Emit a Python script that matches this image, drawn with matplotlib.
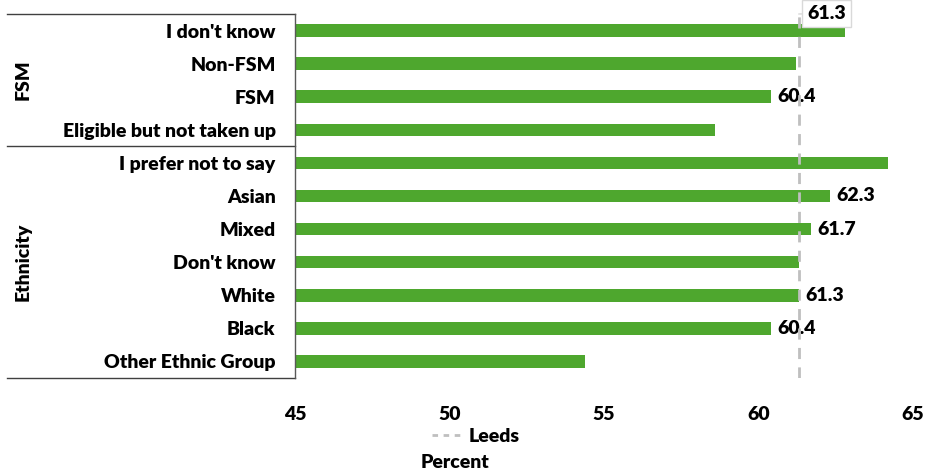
import matplotlib.pyplot as plt
from matplotlib.lines import Line2D
import numpy as np

plt.rcParams['font.family'] = ['Lato', 'DejaVu Sans']
plt.rcParams['font.weight'] = 'heavy'

# categories, top to bottom
categories = ['I don\'t know', 'Non-FSM', 'FSM', 'Eligible but not taken up',
              'I prefer not to say', 'Asian', 'Mixed', 'Don\'t know', 'White',
              'Black', 'Other Ethnic Group']
values = [62.8, 61.2, 60.4, 58.6, 64.2, 62.3, 61.7, 61.3, 61.3, 60.4, 54.4]
show_label = [False, False, True, False, False, True, True, False, True, True, False]
groups = ['FSM', 'Ethnicity']
group_sizes = [4, 7]
leeds = 61.3

bar_color = '#4EA72E'
line_color = '#BFBFBF'
fs = 14
fw = 'heavy'

fig = plt.figure(figsize=(9.28, 4.73), dpi=100)
ax = fig.add_axes([295/928, 1 - 378/473, (913 - 295)/928, (378 - 14)/473])

y = np.arange(len(categories))
bars = ax.barh(y, values, height=0.38, color=bar_color)
ax.set_ylim(len(categories) - 0.5, -0.5)
ax.set_xlim(45, 65)
ax.set_xticks([45, 50, 55, 60, 65])
ax.set_yticks(y)
ax.set_yticklabels(categories, fontsize=fs, fontweight=fw)
ax.tick_params(axis='y', length=0, pad=14)
ax.tick_params(axis='x', length=0, pad=20, labelsize=fs)
for lbl in ax.get_xticklabels():
    lbl.set_fontweight(fw)

for s in ['top', 'right', 'bottom']:
    ax.spines[s].set_visible(False)
ax.spines['left'].set_color('#595959')
ax.spines['left'].set_linewidth(1)

# value labels
for yi, v, show in zip(y, values, show_label):
    if show:
        ax.text(v + 0.22, yi, f'{v:.1f}', va='center', ha='left', fontsize=fs, fontweight=fw)

# Leeds reference line
ax.axvline(leeds, color=line_color, linestyle=(0, (4, 3)), linewidth=2, zorder=3)
ax.annotate(f'{leeds:.1f}', xy=(leeds, -0.5), xytext=(leeds + 0.9, -0.52),
            ha='center', va='center', fontsize=fs, fontweight=fw,
            bbox=dict(boxstyle='square,pad=0.25', fc='white', ec='#D9D9D9', lw=1),
            arrowprops=dict(arrowstyle='-', color='#D9D9D9', lw=1, shrinkA=0, shrinkB=0),
            annotation_clip=False, zorder=5)

# group separators and labels on the left
trans = ax.get_yaxis_transform()
x0 = (7 - 295) / (913 - 295)
bounds = np.cumsum([0] + group_sizes) - 0.5
for b in bounds:
    ax.plot([x0, 0], [b, b], transform=trans, color='#404040', lw=1, clip_on=False)
for g, lo, hi in zip(groups, bounds[:-1], bounds[1:]):
    ax.text((23 - 295) / (913 - 295), (lo + hi) / 2, g, transform=trans, rotation=90,
            ha='center', va='center', fontsize=fs, fontweight=fw)

# legend and axis title
handle = Line2D([0], [0], color=line_color, linestyle=(0, (2, 2)), lw=2)
fig.legend([handle], ['Leeds'], loc='center', bbox_to_anchor=(476/928, 1 - 436/473),
           frameon=False, prop={'weight': fw, 'size': fs}, handlelength=1.6,
           handletextpad=0.3)
fig.text(455/928, 1 - 462/473, 'Percent', ha='center', va='center', fontsize=fs, fontweight=fw)

plt.savefig('out.png', dpi=100)
